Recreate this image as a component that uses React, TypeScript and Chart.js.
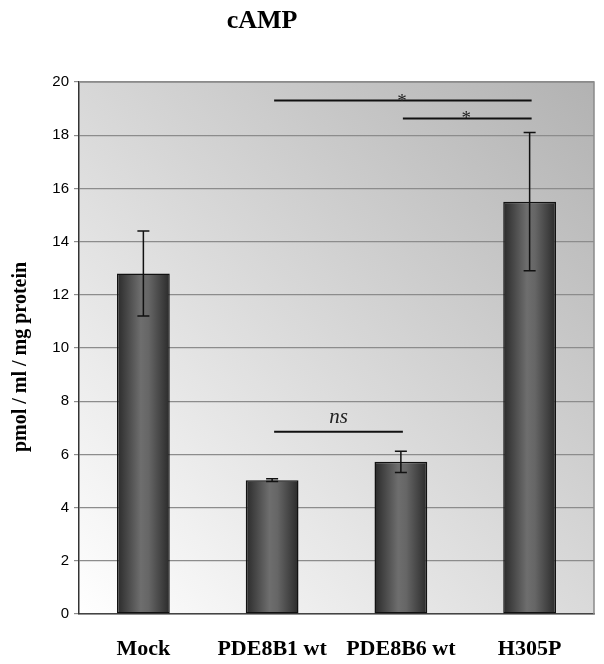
import React, { useEffect, useRef } from "react";
import { Chart, registerables } from "chart.js";

Chart.register(...registerables);

const categories = ["Mock", "PDE8B1 wt", "PDE8B6 wt", "H305P"];
const means = [12.8, 5.03, 5.72, 15.5];
const errLow = [11.2, 4.98, 5.32, 12.9];
const errHigh = [14.4, 5.08, 6.12, 18.1];
const yTicks = [0, 2, 4, 6, 8, 10, 12, 14, 16, 18, 20];
// significance brackets
const sigFrom = [1, 2, 1];
const sigTo = [3, 3, 2];
const sigY = [19.3, 18.63, 6.85];
const sigLabel = ["*", "*", "ns"];

const BAR_PCT = 0.41;

export default function App() {
  const ref = useRef<HTMLCanvasElement | null>(null);
  useEffect(() => {
    document.body.style.margin = "0";
    const canvas = ref.current!;
    const serif = "'Liberation Serif', 'Times New Roman', serif";
    const sans = "'Liberation Sans', Arial, sans-serif";

    const plugin = {
      id: "deco",
      beforeDraw(chart: any) {
        const { ctx, chartArea: a } = chart;
        ctx.save();
        const g = ctx.createLinearGradient(a.left, a.bottom, a.right, a.top);
        g.addColorStop(0, "#ffffff");
        g.addColorStop(1, "#b2b2b2");
        ctx.fillStyle = g;
        ctx.fillRect(a.left, a.top, a.right - a.left, a.bottom - a.top);
        ctx.restore();
      },
      afterDatasetsDraw(chart: any) {
        const { ctx, chartArea: a } = chart;
        const xs = chart.scales.x;
        const ys = chart.scales.y;
        ctx.save();
        ctx.strokeStyle = "#8a8a8a";
        ctx.lineWidth = 1.5;
        ctx.beginPath();
        ctx.moveTo(a.left, a.top);
        ctx.lineTo(a.right, a.top);
        ctx.lineTo(a.right, a.bottom);
        ctx.stroke();
        ctx.strokeStyle = "#111";
        ctx.lineWidth = 1.5;
        for (let i = 0; i < means.length; i++) {
          const x = xs.getPixelForValue(i);
          const y1 = ys.getPixelForValue(errLow[i]);
          const y2 = ys.getPixelForValue(errHigh[i]);
          ctx.beginPath();
          ctx.moveTo(x, y1);
          ctx.lineTo(x, y2);
          ctx.moveTo(x - 6, y1);
          ctx.lineTo(x + 6, y1);
          ctx.moveTo(x - 6, y2);
          ctx.lineTo(x + 6, y2);
          ctx.stroke();
        }
        ctx.lineWidth = 2;
        ctx.fillStyle = "#222";
        for (let k = 0; k < sigY.length; k++) {
          const x1 = xs.getPixelForValue(sigFrom[k]) + 2;
          const x2 = xs.getPixelForValue(sigTo[k]) + 2;
          const y = ys.getPixelForValue(sigY[k]);
          ctx.beginPath();
          ctx.moveTo(x1, y);
          ctx.lineTo(x2, y);
          ctx.stroke();
          ctx.textAlign = "center";
          ctx.textBaseline = "alphabetic";
          if (sigLabel[k] === "ns") {
            ctx.font = `italic 21px ${serif}`;
            ctx.fillText("ns", (x1 + x2) / 2, y - 9);
          } else {
            ctx.font = `19px ${serif}`;
            ctx.fillText("*", (x1 + x2) / 2 - 1, y + 6);
          }
        }
        ctx.fillStyle = "#000";
        ctx.font = `bold 26px ${serif}`;
        ctx.textAlign = "center";
        ctx.textBaseline = "alphabetic";
        ctx.fillText("cAMP", 262, 28);
        ctx.translate(21, 357);
        ctx.rotate(-Math.PI / 2);
        ctx.font = `bold 20px ${serif}`;
        ctx.textBaseline = "middle";
        ctx.fillText("pmol / ml / mg protein", 0, 0);
        ctx.restore();
      },
    };

    const chart = new Chart(canvas, {
      type: "bar",
      data: {
        labels: categories,
        datasets: [
          {
            data: means,
            barPercentage: BAR_PCT,
            categoryPercentage: 1,
            borderColor: "#111",
            borderWidth: 1.5,
            borderSkipped: false,
            backgroundColor: (c: any) => {
              const ch = c.chart;
              if (!ch.chartArea || !ch.scales.x) return "#444";
              const xs = ch.scales.x;
              const x = xs.getPixelForValue(c.dataIndex);
              const w = (xs.width / categories.length) * BAR_PCT;
              const g = ch.ctx.createLinearGradient(x - w / 2, 0, x + w / 2, 0);
              g.addColorStop(0, "#2a2a2a");
              g.addColorStop(0.45, "#6e6e6e");
              g.addColorStop(0.6, "#666666");
              g.addColorStop(1, "#2a2a2a");
              return g;
            },
          },
        ],
      },
      options: {
        responsive: false,
        animation: false,
        devicePixelRatio: 1,
        layout: { padding: { top: 82, right: 10, left: 0, bottom: 0 } },
        plugins: { legend: { display: false }, tooltip: { enabled: false }, title: { display: false } },
        scales: {
          x: {
            grid: { display: false, drawTicks: false },
            border: { display: true, color: "#444", width: 1.5 },
            ticks: {
              color: "#000",
              font: { family: serif, size: 22, weight: "bold" },
              padding: 22,
              maxRotation: 0,
              autoSkip: false,
            },
            afterFit: (s: any) => {
              s.height = 50;
            },
          },
          y: {
            min: 0,
            max: 20,
            afterBuildTicks: (s: any) => {
              s.ticks = yTicks.map((v) => ({ value: v }));
            },
            grid: { color: "#8c8c8c", lineWidth: 1.2, tickLength: 5, drawOnChartArea: true },
            border: { display: true, color: "#333", width: 1.5 },
            ticks: {
              color: "#000",
              font: { family: sans, size: 15 },
              padding: 5,
            },
            afterFit: (s: any) => {
              s.width = 79;
            },
          },
        },
      },
      plugins: [plugin],
    } as any);
    return () => chart.destroy();
  }, []);
  return <canvas ref={ref} width={604} height={664} style={{ display: "block" }} />;
}
